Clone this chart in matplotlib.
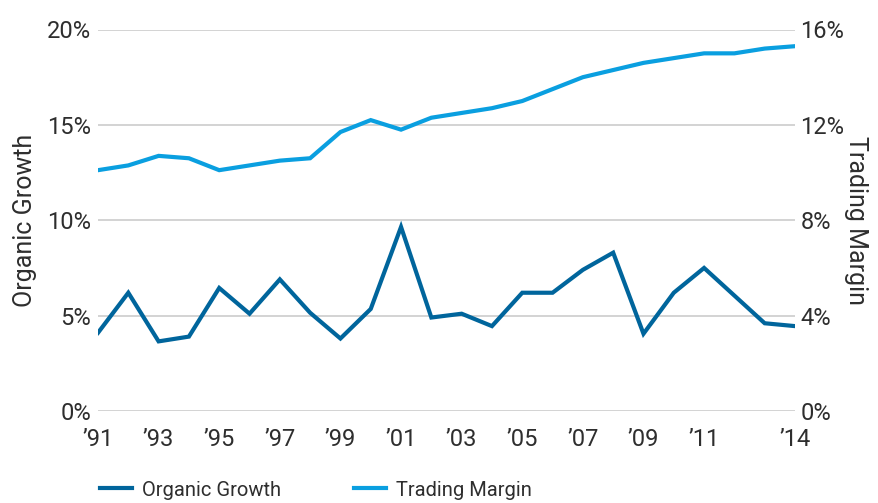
import matplotlib
matplotlib.use("Agg")
import matplotlib.pyplot as plt
from matplotlib.ticker import FixedLocator, FuncFormatter
from matplotlib.lines import Line2D

years = list(range(1991, 2015))
organic_growth = [4.1, 6.2, 3.65, 3.9, 6.45, 5.1, 6.9, 5.15, 3.8, 5.35,
                  9.65, 4.9, 5.1, 4.45, 6.2, 6.2, 7.4, 8.3, 4.05, 6.2,
                  7.5, 6.05, 4.6, 4.45]
trading_margin = [10.1, 10.3, 10.7, 10.6, 10.1, 10.3, 10.5, 10.6, 11.7, 12.2,
                  11.8, 12.3, 12.5, 12.7, 13.0, 13.5, 14.0, 14.3, 14.6, 14.8,
                  15.0, 15.0, 15.2, 15.3]
xtick_years = [1991, 1993, 1995, 1997, 1999, 2001, 2003, 2005, 2007, 2009, 2011, 2014]
xtick_labels = ["\u201991", "\u201993", "\u201995", "\u201997", "\u201999", "\u201901",
                "\u201903", "\u201905", "\u201907", "\u201909", "\u201911", "\u201914"]
left_ticks = [0, 5, 10, 15, 20]
right_ticks = [0, 4, 8, 12, 16]

DARK = "#00659C"
LIGHT = "#0A9FE0"
TEXT = "#2E2E2E"
GRID = "#CCCCCC"

plt.rcParams['font.family'] = ['Roboto', 'DejaVu Sans']

fig = plt.figure(figsize=(8.79, 5.03), dpi=100)
ax = fig.add_axes([98/879, 1 - 411/503, (795 - 98)/879, (411 - 29.5)/503])
ax2 = ax.twinx()

ax.plot(years, organic_growth, color=DARK, lw=3, solid_joinstyle='miter', zorder=3)
ax2.plot(years, trading_margin, color=LIGHT, lw=3, solid_joinstyle='miter', zorder=3)

ax.set_xlim(1991, 2014)
ax.set_ylim(0, 20)
ax2.set_ylim(0, 16)
ax.yaxis.set_major_locator(FixedLocator(left_ticks))
ax2.yaxis.set_major_locator(FixedLocator(right_ticks))
ax.yaxis.set_major_formatter(FuncFormatter(lambda v, p: f"{int(v)}%"))
ax2.yaxis.set_major_formatter(FuncFormatter(lambda v, p: f"{int(v)}%"))
ax.set_xticks(xtick_years)
ax.set_xticklabels(xtick_labels)

ax.grid(axis='y', color=GRID, lw=1.2)
ax.set_axisbelow(True)
for a in (ax, ax2):
    for s in a.spines.values():
        s.set_visible(False)
ax.tick_params(axis='both', length=0, labelsize=17, labelcolor=TEXT)
ax.tick_params(axis='y', pad=5)
ax.tick_params(axis='x', pad=12)
ax2.tick_params(axis='y', length=0, labelsize=17, labelcolor=TEXT, pad=4)

fig.text(25/879, 1 - 220/503, "Organic Growth", fontsize=18, color=TEXT,
         rotation=90, ha='center', va='center')
fig.text(856/879, 1 - 220/503, "Trading Margin", fontsize=18, color=TEXT,
         rotation=-90, ha='center', va='center')

handles = [Line2D([], [], color=DARK, lw=3), Line2D([], [], color=LIGHT, lw=3)]
fig.legend(handles, ["Organic Growth", "Trading Margin"], loc='center left',
           bbox_to_anchor=(82/879, 1 - 490/503), ncol=2, frameon=False, fontsize=14.5,
           handlelength=1.6, handletextpad=0.5, columnspacing=3.6,
           labelcolor=TEXT)

fig.savefig("out.png", dpi=100)
